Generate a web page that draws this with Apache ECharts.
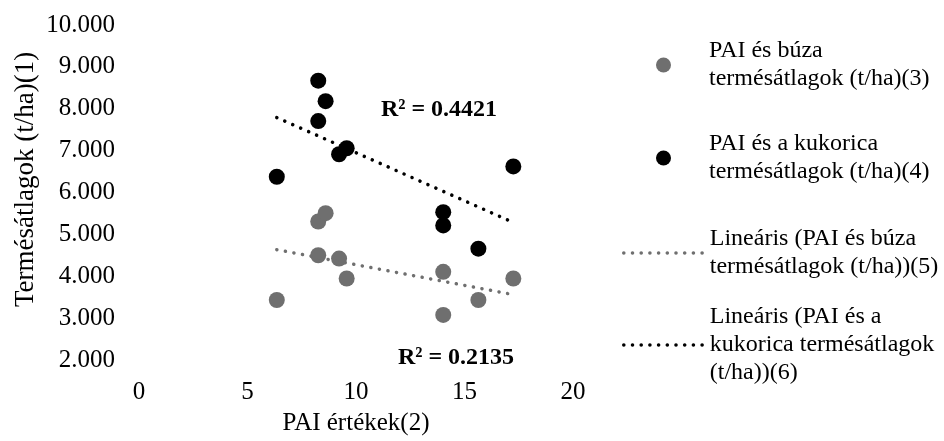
<!DOCTYPE html>
<html>
<head>
<meta charset="utf-8">
<script src="https://cdn.jsdelivr.net/npm/echarts@6/dist/echarts.min.js"></script>
<style>
html,body{margin:0;padding:0;background:#fff;}
#chart{width:944px;height:441px;}
</style>
</head>
<body>
<div id="chart"></div>
<script>
// PAI values (x) shared by both series
var paiValues = [8.26, 8.6, 8.26, 9.22, 9.57, 6.35, 14.02, 14.02, 15.64, 17.25];
// Wheat (búza) yields
var wheatYields = [5308, 5506, 4501, 4422, 3947, 3433, 4106, 3077, 3433, 3947];
// Maize (kukorica) yields
var maizeYields = [8671, 8180, 7705, 6914, 7057, 6376, 5530, 5213, 4659, 6622];
// Trendline end points: [x, y]
var wheatTrend = [[6.35, 4635], [17.25, 3560]];
var maizeTrend = [[6.35, 7790], [17.25, 5285]];
// R² annotations
var r2Labels = ['R² = 0.4421', 'R² = 0.2135'];
// Names
var seriesNames = [
  'PAI és búza termésátlagok (t/ha)(3)',
  'PAI és a kukorica termésátlagok (t/ha)(4)',
  'Lineáris (PAI és búza termésátlagok (t/ha))(5)',
  'Lineáris (PAI és a kukorica termésátlagok (t/ha))(6)'
];
var legendLines = [
  ['PAI és búza', 'termésátlagok (t/ha)(3)'],
  ['PAI és a kukorica', 'termésátlagok (t/ha)(4)'],
  ['Lineáris (PAI és búza', 'termésátlagok (t/ha))(5)'],
  ['Lineáris (PAI és a', 'kukorica termésátlagok', '(t/ha))(6)']
];
var xAxisTitle = 'PAI értékek(2)';
var yAxisTitle = 'Termésátlagok (t/ha)(1)';

var FONT = '"Liberation Serif", "Times New Roman", serif';
var FS = 25;
var LFS = 24;
var GRAY = '#6f6f6f';
var BLACK = '#000000';
var LH = 28;

function pairs(xs, ys) { return xs.map(function (x, i) { return [x, ys[i]]; }); }

var legendTops = [65, 158, 253, 345];
var legends = seriesNames.map(function (name, i) {
  var n = legendLines[i].length;
  var isLine = i >= 2;
  var boxH = (2 * n - 1) * LH;
  return {
    data: [{ name: name }],
    left: isLine ? 622 : 656,
    top: legendTops[i] - boxH / 2,
    orient: 'vertical',
    itemWidth: 81,
    itemHeight: isLine ? 4 : 15,
    padding: 0,
    selectedMode: false,
    formatter: function () { return legendLines[i].join('\n'); },
    lineStyle: { width: 3.5 },
    itemStyle: isLine ? { opacity: 0 } : {},
    textStyle: {
      fontFamily: FONT, fontSize: LFS, color: '#000', lineHeight: LH,
      padding: [(n - 1) * LH, 0, 0, 0]
    }
  };
});

var chart = echarts.init(document.getElementById('chart'), null, { renderer: 'canvas' });
chart.setOption({
  animation: false,
  backgroundColor: '#fff',
  grid: { left: 139, right: 371, top: 25, bottom: 79, containLabel: false },
  legend: legends,
  xAxis: {
    type: 'value', min: 0, max: 20, interval: 5,
    name: xAxisTitle, nameLocation: 'middle', nameGap: 51,
    nameTextStyle: { fontFamily: FONT, fontSize: FS, color: '#000' },
    axisLine: { show: false }, axisTick: { show: false }, splitLine: { show: false },
    axisLabel: { fontFamily: FONT, fontSize: FS, color: '#000', margin: 20 }
  },
  yAxis: {
    type: 'value', min: 2000, max: 10000, interval: 1000,
    name: yAxisTitle, nameLocation: 'middle', nameGap: 100, nameRotate: 90,
    nameTextStyle: { fontFamily: FONT, fontSize: 27, color: '#000', padding: [0, 0, 0, 26] },
    axisLine: { show: false }, axisTick: { show: false }, splitLine: { show: false },
    axisLabel: {
      fontFamily: FONT, fontSize: FS, color: '#000', margin: 24,
      formatter: function (v) { return (v / 1000).toFixed(3); }
    }
  },
  graphic: [
    { type: 'text', x: 439, y: 110, style: { text: r2Labels[0], font: 'bold 24px ' + FONT, fill: '#000', align: 'center', verticalAlign: 'middle' } },
    { type: 'text', x: 456, y: 358, style: { text: r2Labels[1], font: 'bold 24px ' + FONT, fill: '#000', align: 'center', verticalAlign: 'middle' } }
  ],
  series: [
    { name: seriesNames[0], type: 'scatter', data: pairs(paiValues, wheatYields), symbol: 'circle', symbolSize: 16, itemStyle: { color: GRAY, opacity: 1 }, z: 2 },
    { name: seriesNames[1], type: 'scatter', data: pairs(paiValues, maizeYields), symbol: 'circle', symbolSize: 16, itemStyle: { color: BLACK, opacity: 1 }, z: 2 },
    { name: seriesNames[2], type: 'line', data: wheatTrend, symbol: 'none', lineStyle: { color: GRAY, width: 3.5, type: [0.1, 8.6], cap: 'round' }, itemStyle: { color: GRAY }, z: 3 },
    { name: seriesNames[3], type: 'line', data: maizeTrend, symbol: 'none', lineStyle: { color: BLACK, width: 3.5, type: [0.1, 8.6], cap: 'round' }, itemStyle: { color: BLACK }, z: 3 }
  ]
});
</script>
</body>
</html>
